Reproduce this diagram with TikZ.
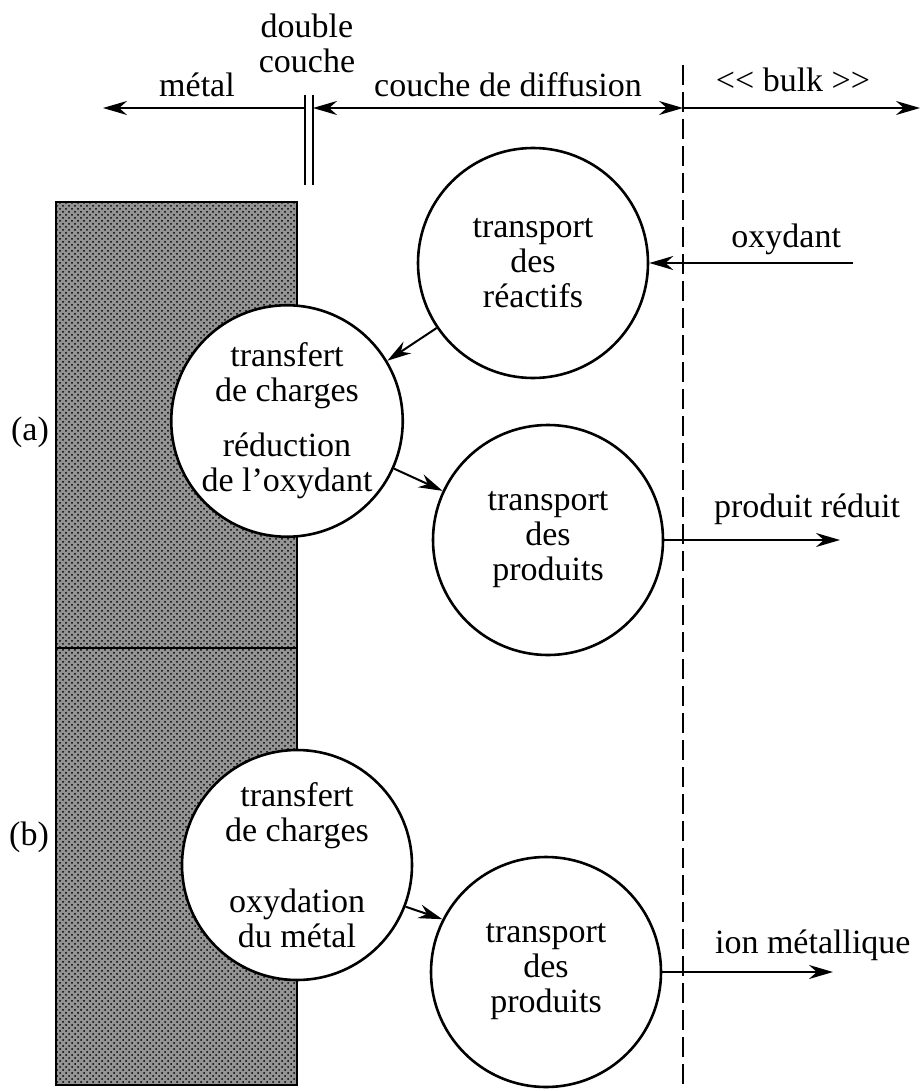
\documentclass[tikz,border=0pt]{standalone}
\usepackage{fontspec}
\setmainfont{Liberation Serif}[Ligatures=TeXOff]
\usetikzlibrary{arrows.meta,patterns}

\tikzset{
  every node/.style={font=\fontsize{17}{17.5}\selectfont},
  proc/.style={draw, circle, fill=white, line width=1.3pt,
    minimum size=115pt, inner sep=0pt, align=center},
  flow/.style={line width=1pt, -{Stealth[length=12pt,width=7pt]}},
  flows/.style={line width=1pt,
    {Stealth[length=12pt,width=7pt]}-{Stealth[length=12pt,width=7pt]}}
}

\begin{document}
\begin{tikzpicture}[x=0.5pt, y=-0.5pt]
    \useasboundingbox (0,0) rectangle (921,1091);

    % electrode
    \fill[black!42] (56,202) rectangle (297,1085);
    \fill[pattern=crosshatch dots] (56,202) rectangle (297,1085);
    \draw[line width=1.3pt] (56,202) rectangle (297,1085);
    \draw[line width=1.3pt] (56,648) -- (297,648);

    % limit of the diffusion layer
    \draw[line width=0.9pt, dash pattern=on 10pt off 3.5pt] (683,65) -- (683,1091);

    % zones along the top
    \coordinate (lft) at (103,108);
    \coordinate (dcl) at (305,108);
    \coordinate (dcr) at (313,108);
    \coordinate (bnd) at (683,108);
    \coordinate (rgt) at (920,108);
    \draw[line width=0.8pt] (305,95) -- (305,185);
    \draw[line width=0.8pt] (313,95) -- (313,185);
    \draw[flow] (dcl) -- (lft);
    \draw[flows] (dcr) -- (bnd);
    \draw[flow] (bnd) -- (rgt);
    \node[anchor=base] (metal) at (197,97) {métal};
    \node[anchor=base, align=center] (dbl) at (307,73) {double\\couche};
    \node[anchor=base] (diff) at (508,97) {couche de diffusion};
    \node[anchor=base] (bulk) at (793,92) {<< bulk >>};

    \node[anchor=base] (la) at (30,440) {(a)};
    \node[anchor=base] (lb) at (29,845) {(b)};

    % (a) reduction of the oxidant
    \node[proc] (reac) at (533,263) {transport\\des\\réactifs};
    \node[proc] (redox) at (287,421) {transfert\\de charges\\[10pt]réduction\\de l’oxydant};
    \node[proc] (proda) at (548,540) {transport\\des\\produits};
    \coordinate (oxin) at (853,263);
    \coordinate (redout) at (840,540);
    \draw[flow] (oxin) -- (reac.east);
    \draw[flow] (reac.214) -- (redox.31);
    \draw[flow] (redox.336) -- (proda.155);
    \draw[flow] (proda.east) -- (redout);
    \node[anchor=base east] (oxlab) at (848,248) {oxydant};
    \node[anchor=base west] (redlab) at (707,517) {produit réduit};

    % (b) oxidation of the metal
    \node[proc] (oxm) at (297,865) {transfert\\de charges\\[18pt]oxydation\\du métal};
    \node[proc] (prodb) at (546,972) {transport\\des\\produits};
    \coordinate (ionout) at (833,972);
    \draw[flow] (oxm.339) -- (prodb.153);
    \draw[flow] (prodb.east) -- (ionout);
    \node[anchor=base west] (ionlab) at (708,953) {ion métallique};
\end{tikzpicture}
\end{document}
